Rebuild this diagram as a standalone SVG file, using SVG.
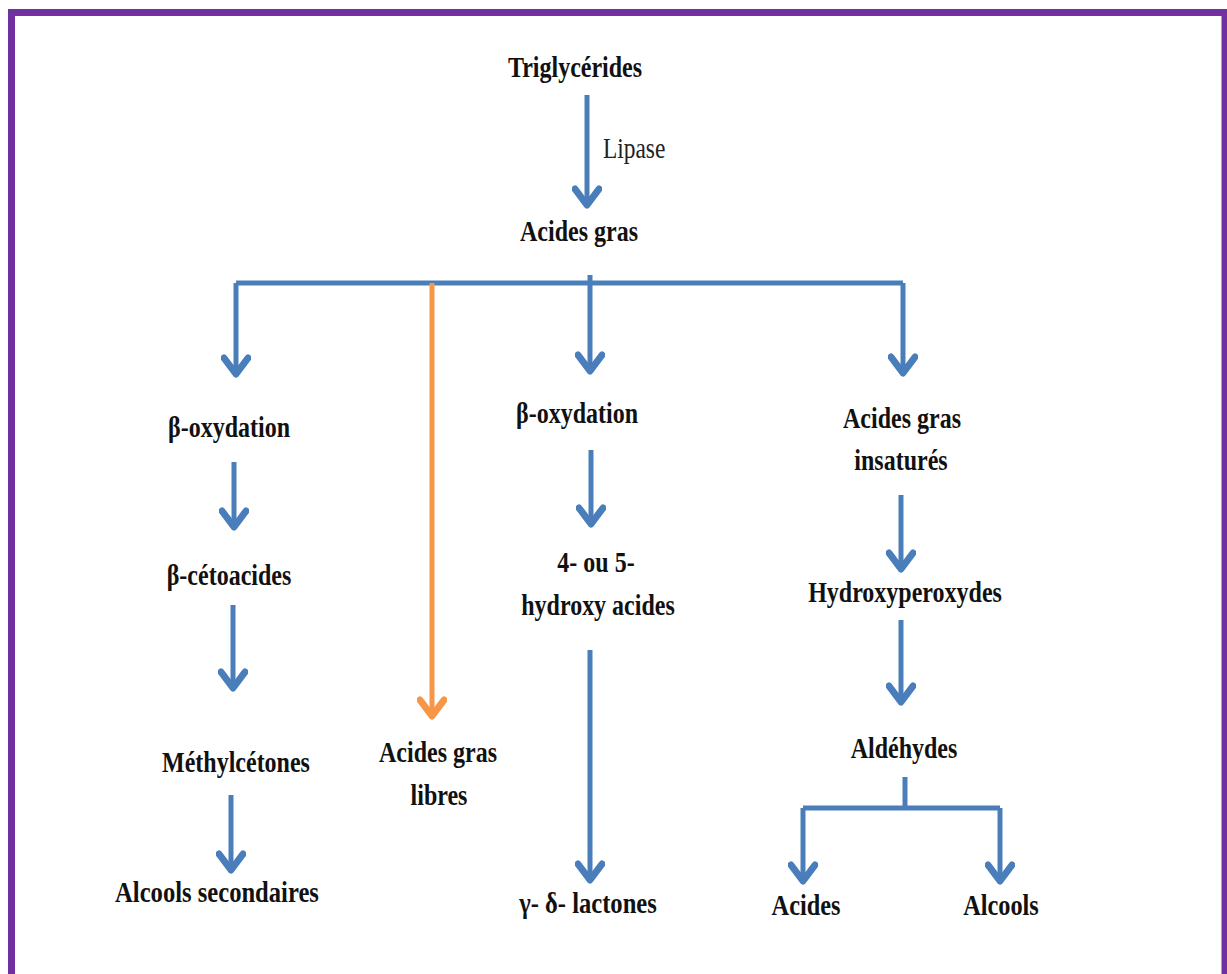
<svg xmlns="http://www.w3.org/2000/svg" width="1227" height="974" viewBox="0 0 1227 974">
<defs>
<style>
.t{font-family:"Liberation Serif","Times New Roman",serif;font-weight:bold;font-size:30px;fill:#111;text-anchor:middle}
.n{font-family:"Liberation Serif","Times New Roman",serif;font-size:30px;fill:#222}
.b{fill:none;stroke:#4A7EBB;stroke-width:5}
.o{fill:none;stroke:#F79646;stroke-width:5}
</style>
<marker id="ab" markerUnits="userSpaceOnUse" viewBox="-22 -15 26 30" refX="0" refY="0" markerWidth="26" markerHeight="30" orient="auto">
<path d="M-16,-12 L0,0 L-16,12" fill="none" stroke="#4A7EBB" stroke-width="7" stroke-linejoin="round" stroke-linecap="round"/>
</marker>
<marker id="ao" markerUnits="userSpaceOnUse" viewBox="-22 -15 26 30" refX="0" refY="0" markerWidth="26" markerHeight="30" orient="auto">
<path d="M-16,-12 L0,0 L-16,12" fill="none" stroke="#F79646" stroke-width="7" stroke-linejoin="round" stroke-linecap="round"/>
</marker>
</defs>
<rect width="1227" height="974" fill="#fff"/>
<path d="M11.5,974 V12.5 H1225 V974" fill="none" stroke="#7030A0" stroke-width="7"/>

<g id="connectors">
<path class="b" d="M587,95 V205" marker-end="url(#ab)"/>
<path class="b" d="M236,283 H903"/>
<path class="b" d="M236,283 V374" marker-end="url(#ab)"/>
<path class="o" d="M432,283 V716" marker-end="url(#ao)"/>
<path class="b" d="M590,275 V371" marker-end="url(#ab)"/>
<path class="b" d="M903,283 V373" marker-end="url(#ab)"/>
<path class="b" d="M234,462 V527" marker-end="url(#ab)"/>
<path class="b" d="M233,605 V688" marker-end="url(#ab)"/>
<path class="b" d="M231,795 V870" marker-end="url(#ab)"/>
<path class="b" d="M591,450 V524" marker-end="url(#ab)"/>
<path class="b" d="M590,650 V880" marker-end="url(#ab)"/>
<path class="b" d="M901,495 V569" marker-end="url(#ab)"/>
<path class="b" d="M901,620 V702" marker-end="url(#ab)"/>
<path class="b" d="M905,777 V808"/>
<path class="b" d="M803,808 H1000"/>
<path class="b" d="M803,808 V881" marker-end="url(#ab)"/>
<path class="b" d="M1000,808 V881" marker-end="url(#ab)"/>
</g>

<g id="lipase"><text class="n" transform="translate(603,158) scale(0.78,1)">Lipase</text></g>
<g id="triglycerides"><text class="t" transform="translate(575,77) scale(0.8,1)">Triglycérides</text></g>
<g id="acides-gras"><text class="t" transform="translate(579,241) scale(0.8,1)">Acides gras</text></g>

<g id="beta-ox-left"><text class="t" transform="translate(229,437) scale(0.8,1)">β-oxydation</text></g>
<g id="beta-cetoacides"><text class="t" transform="translate(229,585) scale(0.8,1)">β-cétoacides</text></g>
<g id="methylcetones"><text class="t" transform="translate(236,772) scale(0.8,1)">Méthylcétones</text></g>
<g id="alcools-secondaires"><text class="t" transform="translate(217,902) scale(0.82,1)">Alcools secondaires</text></g>

<g id="acides-gras-libres">
<text class="t" transform="translate(438,762) scale(0.8,1)">Acides gras</text>
<text class="t" transform="translate(439,805) scale(0.8,1)">libres</text>
</g>

<g id="beta-ox-mid"><text class="t" transform="translate(577,423) scale(0.8,1)">β-oxydation</text></g>
<g id="hydroxy-acides">
<text class="t" transform="translate(596,572) scale(0.8,1)">4- ou 5-</text>
<text class="t" transform="translate(598,615) scale(0.8,1)">hydroxy acides</text>
</g>
<g id="lactones"><text class="t" transform="translate(588,913) scale(0.82,1)">γ- δ- lactones</text></g>

<g id="acides-gras-insatures">
<text class="t" transform="translate(902,428) scale(0.8,1)">Acides gras</text>
<text class="t" transform="translate(901,470) scale(0.8,1)">insaturés</text>
</g>
<g id="hydroxyperoxydes"><text class="t" transform="translate(905,602) scale(0.8,1)">Hydroxyperoxydes</text></g>
<g id="aldehydes"><text class="t" transform="translate(904,758) scale(0.8,1)">Aldéhydes</text></g>
<g id="acides"><text class="t" transform="translate(806,915) scale(0.81,1)">Acides</text></g>
<g id="alcools"><text class="t" transform="translate(1001,915) scale(0.81,1)">Alcools</text></g>
</svg>
